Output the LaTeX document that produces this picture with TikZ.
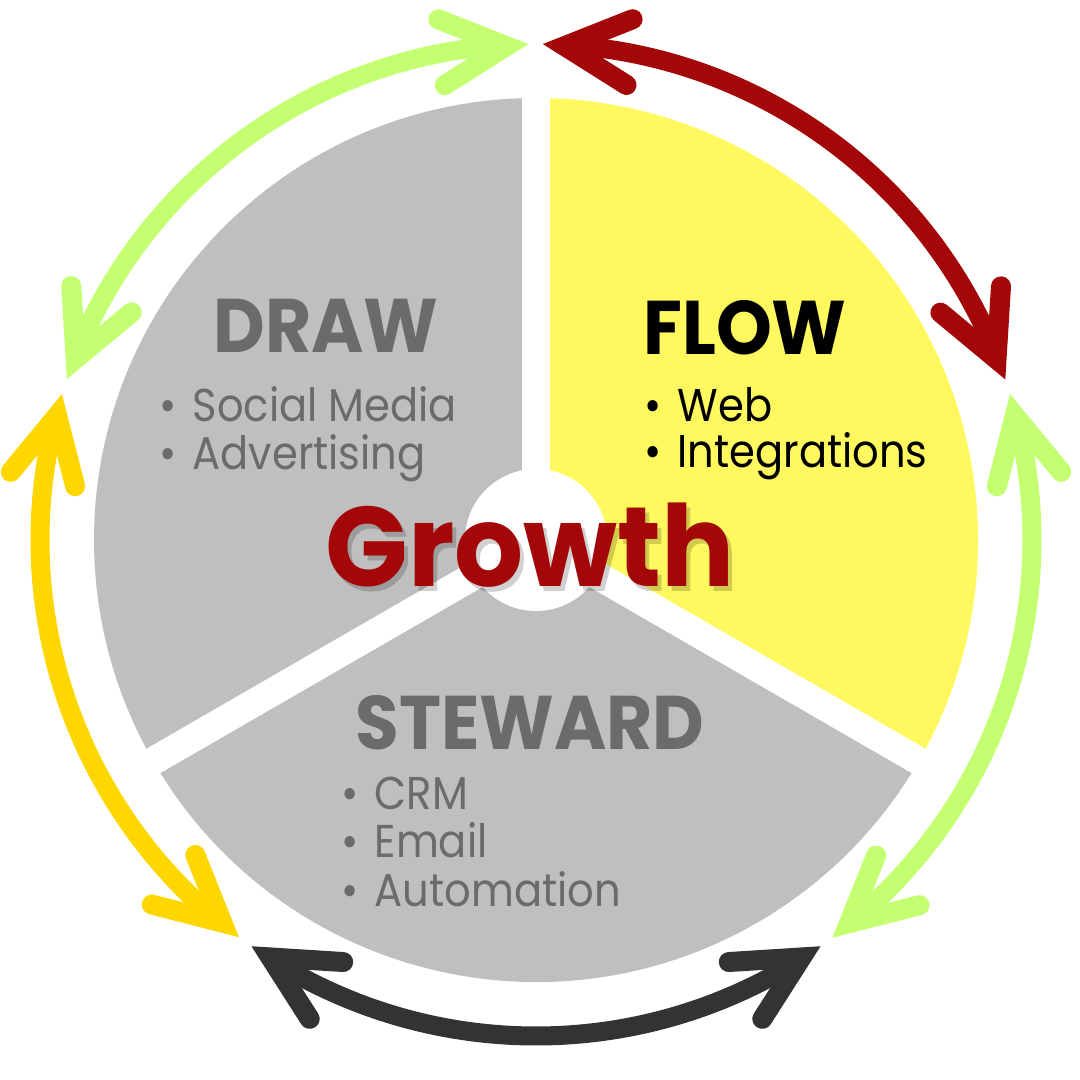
\documentclass[tikz,border=0pt]{standalone}
\usepackage{fontspec}
\setmainfont{Poppins}
\definecolor{piegray}{HTML}{BFBFBF}
\definecolor{pieyellow}{HTML}{FFF85F}
\definecolor{txtgray}{HTML}{6B6B6B}
\definecolor{agreen}{HTML}{C3FF70}
\definecolor{ared}{HTML}{A30707}
\definecolor{adark}{HTML}{333333}
\definecolor{ayellow}{HTML}{FFD700}
\tikzset{
  shaft/.style={line width=19pt, line cap=butt},
  headstroke/.style={line width=20pt, line cap=round, line join=miter},
  header/.style={inner sep=0pt, anchor=base, xscale=0.935, font=\fontsize{76}{80}\selectfont\bfseries},
  item/.style={inner sep=0pt, anchor=base west, xscale=0.905, font=\fontsize{46}{50}\selectfont},
  bigword/.style={inner sep=0pt, anchor=base, xscale=0.96, font=\fontsize{113}{116}\selectfont\bfseries},
}
% #1 colour, #2 name, #3 angle of tip, #4 direction of head
\newcommand\ahead[4]{%
  \coordinate (#2) at ({536+496*cos(#3)},{540+496*sin(#3)});
  \begin{scope}[shift={(#2)}, rotate={#4}]
    \draw[#1, headstroke] (-87,33) -- (-22,0) -- (-87,-33);
  \end{scope}}
% #1 colour, #2 start angle, #3 end angle
\newcommand\ashaft[3]{%
  \draw[#1, shaft] ({536+496*cos(#2)},{540+496*sin(#2)}) arc[start angle=#2, end angle=#3, radius=496];}
\begin{document}
\begin{tikzpicture}[x=1pt, y=1pt]
\useasboundingbox (0,0) rectangle (1080,1080);
\fill[white] (0,0) rectangle (1080,1080);
\coordinate (C) at (536,540);
% pie
\fill[piegray] (C) -- ++(90:442) arc[start angle=90, end angle=210, radius=442] -- cycle;
\fill[pieyellow] (C) -- ++(-30:442) arc[start angle=-30, end angle=90, radius=442] -- cycle;
\fill[piegray] (C) -- ++(210:442) arc[start angle=210, end angle=330, radius=442] -- cycle;
\draw[white, line width=28pt] (C) -- ++(90:460);
\draw[white, line width=28pt] (C) -- ++(210:460);
\draw[white, line width=28pt] (C) -- ++(330:460);
\fill[white] (C) circle[radius=71];
% arrows
\ashaft{agreen}{158}{94}
\ahead{agreen}{g1a}{161.05}{246.55}
\ahead{agreen}{g1b}{90.9}{5.4}
\ashaft{ared}{86.2}{21.9}
\ahead{ared}{r1a}{89.2}{174.7}
\ahead{ared}{r1b}{18.9}{-66.6}
\ashaft{agreen}{-50.3}{14.1}
\ahead{agreen}{g2a}{17.1}{102.6}
\ahead{agreen}{g2b}{306.7}{221.2}
\ashaft{adark}{238}{302}
\ahead{adark}{d1a}{305}{30.5}
\ahead{adark}{d1b}{235}{149.5}
\ashaft{ayellow}{165.9}{230.2}
\ahead{ayellow}{y1a}{233.2}{318.7}
\ahead{ayellow}{y1b}{162.9}{77.4}
% texts
\node[header, text=txtgray] (draw) at (326,727) {DRAW};
\node[item, text=txtgray] (d1) at (159,658) {\makebox[37pt][l]{•}Social Media};
\node[item, text=txtgray] (d2) at (159,610) {\makebox[37pt][l]{•}Advertising};
\node[header, text=black] (flow) at (745,725) {FLOW};
\node[item, text=black] (f1) at (644,658) {\makebox[37pt][l]{•}Web};
\node[item, text=black] (f2) at (644,612) {\makebox[37pt][l]{•}Integrations};
\node[header, text=txtgray] (steward) at (530,330) {STEWARD};
\node[item, text=txtgray] (s1) at (341,270) {\makebox[37pt][l]{•}CRM};
\node[item, text=txtgray] (s2) at (341,222) {\makebox[37pt][l]{•}Email};
\node[item, text=txtgray] (s3) at (341,173) {\makebox[37pt][l]{•}Automation};
% Growth with soft shadow
\node[bigword, text=black, opacity=0.18] (growthshadow) at (534,488) {Growth};
\node[bigword, text=ared] (growth) at (530,493) {Growth};
\end{tikzpicture}
\end{document}
